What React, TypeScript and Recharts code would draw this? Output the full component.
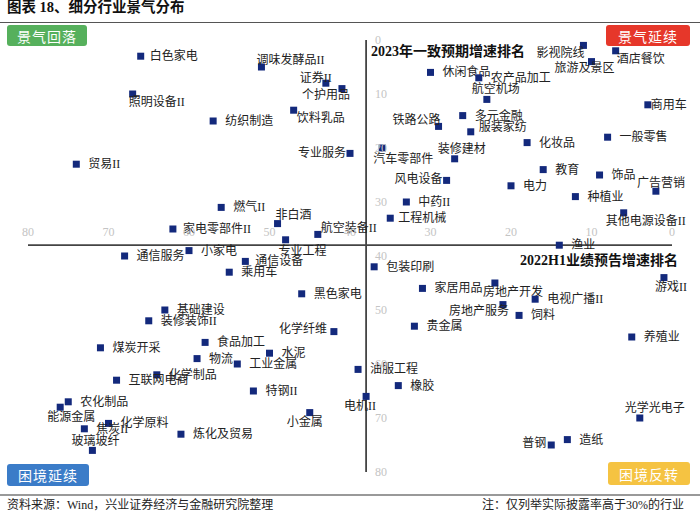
import { ScatterChart, Scatter, XAxis, YAxis, ReferenceLine } from "recharts";

// 行业名称与两个排名（横轴：2022H1业绩预告增速排名，纵轴：2023年一致预期增速排名）
const industries = [
  "白色家电", "调味发酵品II", "证券II", "个护用品", "照明设备II", "纺织制造", "饮料乳品", "贸易II",
  "专业服务", "燃气II", "非白酒", "家电零部件II", "航空装备II", "专业工程",
  "影视院线", "酒店餐饮", "旅游及景区", "休闲食品", "农产品加工", "航空机场", "商用车", "多元金融",
  "铁路公路", "服装家纺", "化妆品", "一般零售", "汽车零部件", "装修建材", "教育", "饰品",
  "风电设备", "电力", "广告营销", "种植业", "中药II", "其他电源设备II", "工程机械", "渔业",
  "小家电", "通信服务", "通信设备", "乘用车", "黑色家电", "基础建设", "装修装饰II", "化学纤维",
  "煤炭开采", "食品加工", "水泥", "物流", "工业金属", "化学制品", "互联网电商", "特钢II",
  "农化制品", "能源金属", "小金属", "化学原料", "焦炭II", "炼化及贸易", "玻璃玻纤", "电机II",
  "包装印刷", "游戏II", "房地产开发", "家居用品", "电视广播II", "房地产服务", "饲料", "贵金属",
  "养殖业", "油服工程", "橡胶", "光学光电子", "普钢", "造纸",
];

const h1Rank = [
  66, 51, 43, 41, 67, 57, 47, 74,
  40, 56, 49, 62, 44, 48,
  11, 7, 10, 30, 24, 23, 3, 26,
  29, 25, 18, 8, 36, 27, 16, 9,
  28, 20, 2, 12, 33, 6, 35, 14,
  60, 68, 53, 55, 46, 63, 65, 42,
  71, 58, 50, 59, 54, 64, 69, 52,
  75, 76, 45, 70, 73, 61, 72, 38,
  37, 1, 22, 31, 17, 21, 19, 32,
  5, 39, 34, 4, 15, 13,
];

const fyRank = [
  3, 5, 8, 9, 10, 15, 13, 23,
  21, 31, 34, 35, 36, 37,
  1, 2, 4, 6, 7, 11, 12, 14,
  16, 17, 19, 18, 20, 22, 24, 25,
  26, 27, 28, 29, 30, 32, 33, 38,
  39, 40, 41, 43, 47, 50, 52, 54,
  57, 56, 58, 59, 60, 62, 63, 65,
  67, 68, 69, 71, 72, 73, 76, 66,
  42, 44, 45, 46, 48, 49, 51, 53,
  55, 61, 64, 70, 75, 74,
];

const xTicks = [80, 70, 60, 50, 40, 30, 20, 10, 0];
const yTicks = [0, 10, 20, 30, 40, 50, 60, 70, 80];
const MID = 38;

// 标签相对方块中心的偏移，未列出的默认放在右侧
const LABEL_OFFSET: Record<string, [number, number]> = {
  "白色家电": [9, 0], "家电零部件II": [10, 0], "通信设备": [10, 0],
  "调味发酵品II": [-5, -7], "证券II": [-26, -5], "个护用品": [-40, 6], "照明设备II": [-4, 8],
  "饮料乳品": [3, 8], "专业服务": [-52, 0], "非白酒": [-2, -9], "航空装备II": [3, -6],
  "专业工程": [-7, 11], "影视院线": [-47, 8], "酒店餐饮": [1, 8], "旅游及景区": [-37, 6],
  "航空机场": [-15, -10], "商用车": [3, 0], "铁路公路": [-46, -6], "服装家纺": [8, -5],
  "汽车零部件": [-9, 11], "装修建材": [-17, -10], "风电设备": [-52, -1], "广告营销": [-19, -8],
  "其他电源设备II": [-18, 8], "工程机械": [8, 0], "化学纤维": [-55, -3], "能源金属": [-13, 10],
  "小金属": [-23, 9], "玻璃玻纤": [-21, -9], "游戏II": [-9, 9], "房地产开发": [-12, 9],
  "房地产服务": [-54, 6], "电机II": [-22, 10], "光学光电子": [-15, -10], "普钢": [-29, -2],
};

const FONT = '"Liberation Serif", "Times New Roman", "Noto Sans CJK SC", serif';
const MARK = "#13297c";

const points = industries.map((name, i) => ({ name, x: h1Rank[i], y: fyRank[i] }));
const xTickData = xTicks.map((t) => ({ x: t, y: MID, t }));
const yTickData = yTicks.map((t) => ({ x: MID, y: t, t }));

const PointShape = (props: any) => {
  const { cx, cy, payload } = props;
  const [dx, dy] = LABEL_OFFSET[payload.name] || [12, 0];
  return (
    <g>
      <rect x={cx - 3.5} y={cy - 3.5} width={7} height={7} fill={MARK} />
      <text x={cx + dx} y={cy + dy} fontSize={12} fill="#222" fontFamily={FONT} dominantBaseline="central">
        {payload.name}
      </text>
    </g>
  );
};

const XTickShape = (props: any) => (
  <text x={props.cx} y={props.cy - 13} fontSize={12} fill="#c4c4c4" fontFamily={FONT}
    textAnchor="middle" dominantBaseline="central">{props.payload.t}</text>
);

const YTickShape = (props: any) => (
  <text x={props.cx + 9} y={props.cy} fontSize={12} fill="#c4c4c4" fontFamily={FONT}
    dominantBaseline="central">{props.payload.t}</text>
);

const boxStyle = (left: number, top: number, width: number, height: number, bg: string): any => ({
  position: "absolute", left, top, width, height, background: bg, borderRadius: 3,
  color: "#fff", fontSize: 14, fontFamily: FONT, letterSpacing: 1,
  display: "flex", alignItems: "center", justifyContent: "center",
});

const abs = (left: number, top: number, extra: any = {}): any => ({
  position: "absolute", left, top, fontFamily: FONT, whiteSpace: "nowrap", ...extra,
});

export default function App() {
  return (
    <div style={{ position: "absolute", left: 0, top: 0, width: 700, height: 514, background: "#fff", overflow: "hidden" }}>
      <div style={abs(7, 0, { fontSize: 14.5, fontWeight: "bold", lineHeight: "15px", color: "#111" })}>
        图表 18、细分行业景气分布
      </div>
      <div style={{ position: "absolute", left: 0, top: 21.5, width: 700, height: 1.5, background: "#555" }} />

      <ScatterChart width={700} height={514} margin={{ top: 40, right: 28, bottom: 42, left: 28 }}>
        <XAxis type="number" dataKey="x" domain={[0, 80]} reversed hide />
        <YAxis type="number" dataKey="y" domain={[0, 80]} reversed hide />
        <ReferenceLine x={MID} stroke="#444" strokeWidth={1.8} />
        <ReferenceLine y={MID} stroke="#444" strokeWidth={1.8} />
        <Scatter data={points} shape={<PointShape />} isAnimationActive={false} />
        <Scatter data={xTickData} shape={<XTickShape />} isAnimationActive={false} />
        <Scatter data={yTickData} shape={<YTickShape />} isAnimationActive={false} />
      </ScatterChart>

      <div style={abs(371, 45, { fontSize: 14, fontWeight: "bold", lineHeight: "14px", color: "#111" })}>
        2023年一致预期增速排名
      </div>
      <div style={abs(520, 254, { fontSize: 14, fontWeight: "bold", lineHeight: "14px", color: "#111" })}>
        2022H1业绩预告增速排名
      </div>

      <div style={boxStyle(7, 25, 80, 21, "#56b05c")}>景气回落</div>
      <div style={boxStyle(606, 25, 84, 21, "#e6372a")}>景气延续</div>
      <div style={boxStyle(7, 464, 82, 22, "#3b7cc8")}>困境延续</div>
      <div style={boxStyle(608, 462, 82, 23, "#f5c342")}>困境反转</div>

      <div style={{ position: "absolute", left: 0, top: 494, width: 700, height: 1.5, background: "#999" }} />
      <div style={abs(7, 499, { fontSize: 12, lineHeight: "12px", color: "#222" })}>
        资料来源：Wind，兴业证券经济与金融研究院整理
      </div>
      <div style={abs(482, 499, { fontSize: 12, lineHeight: "12px", color: "#222" })}>
        注：仅列举实际披露率高于30%的行业
      </div>
    </div>
  );
}
